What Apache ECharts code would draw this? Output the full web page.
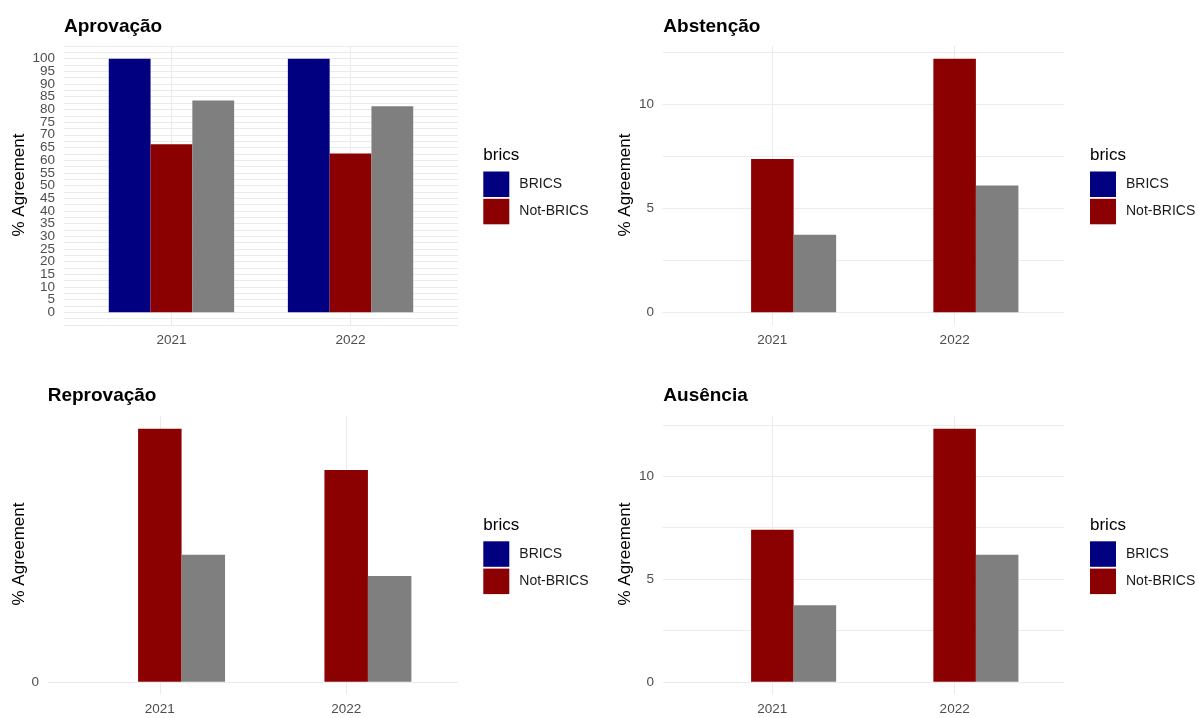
<!DOCTYPE html>
<html>
<head>
<meta charset="utf-8">
<script src="https://cdn.jsdelivr.net/npm/echarts@6/dist/echarts.min.js"></script>
<style>
html,body{margin:0;padding:0;background:#fff;}
#chart{width:1198px;height:718px;}
</style>
</head>
<body>
<div id="chart"></div>
<script>
// ---- data ----
const years = ['2021', '2022'];
const xPos = [1, 2];
const panelTitles = ['Aprovação', 'Abstenção', 'Reprovação', 'Ausência'];
const seriesNames = ['BRICS', 'Not-BRICS', 'Total'];

const aprovBRICS = [100, 100];
const aprovNot   = [66.3, 62.6];
const aprovAll   = [83.5, 81.2];

const abstBRICS = [0, 0];
const abstNot   = [7.38, 12.21];
const abstAll   = [3.73, 6.1];

const reprBRICS = [0, 0];
const reprNot   = [4.4, 3.68];
const reprAll   = [2.21, 1.84];

const ausBRICS = [0, 0];
const ausNot   = [7.4, 12.31];
const ausAll   = [3.72, 6.18];

const aprovTickLabels = [0,5,10,15,20,25,30,35,40,45,50,55,60,65,70,75,80,85,90,95,100];
const aprovGridLines = [-5,-2.5,0,2.5,5,7.5,10,12.5,15,17.5,20,22.5,25,27.5,30,32.5,35,37.5,40,42.5,45,47.5,50,52.5,55,57.5,60,62.5,65,67.5,70,72.5,75,77.5,80,82.5,85,87.5,90,92.5,95,97.5,100,102.5,105];
const smallTickLabels = [0, 5, 10];
const smallGridLines = [0, 2.5, 5, 7.5, 10, 12.5];
const reprTickLabels = [0];
const reprGridLines = [0];

// ---- styling ----
const FONT = '"Liberation Sans", Arial, sans-serif';
const COLORS = ['#000080', '#8B0000', '#7F7F7F'];
const GRIDCOL = '#EBEBEB';

// For the dense panel, pad the label list with the (hidden) panel limits so that
// ECharts' min/max-label overlap logic does not drop any visible label.
const aprovLabelValues = [aprovGridLines[0]].concat(aprovTickLabels, [aprovGridLines[aprovGridLines.length - 1]]);

const panels = [
  {title: panelTitles[0], data: [aprovBRICS, aprovNot, aprovAll], labels: aprovLabelValues, lines: aprovGridLines, edge: false,
   grid: {left: 64, top: 46, width: 394, height: 279}, tx: 64, ty: 26.5, ax: 19.7, ay: 185, lx: 483.3, ly: 171.5},
  {title: panelTitles[1], data: [abstBRICS, abstNot, abstAll], labels: smallTickLabels, lines: smallGridLines, edge: true,
   grid: {left: 663, top: 46, width: 401, height: 279}, tx: 663.3, ty: 26.5, ax: 625, ay: 185, lx: 1090, ly: 171.5},
  {title: panelTitles[2], data: [reprBRICS, reprNot, reprAll], labels: reprTickLabels, lines: reprGridLines, edge: true,
   grid: {left: 48, top: 416, width: 410, height: 278.5}, tx: 47.7, ty: 395.3, ax: 19.7, ay: 554, lx: 483.3, ly: 541.3},
  {title: panelTitles[3], data: [ausBRICS, ausNot, ausAll], labels: smallTickLabels, lines: smallGridLines, edge: true,
   grid: {left: 663, top: 416, width: 401, height: 278.5}, tx: 663.3, ty: 395.3, ax: 625, ay: 554, lx: 1090, ly: 541.3}
];

const grids = [], xAxes = [], yAxes = [], series = [], legends = [], graphics = [];

panels.forEach((p, i) => {
  grids.push(Object.assign({containLabel: false}, p.grid));
  xAxes.push({
    type: 'value', gridIndex: i, min: 0.4, max: 2.6,
    axisLine: {show: false},
    axisTick: {show: false, customValues: xPos},
    axisLabel: {customValues: xPos, formatter: v => years[Math.round(v) - 1] || '',
      color: '#4D4D4D', fontSize: 13.5, fontFamily: FONT, margin: 8,
      showMinLabel: true, showMaxLabel: true, hideOverlap: false},
    splitLine: {show: true, lineStyle: {color: GRIDCOL, width: 1}}
  });
  yAxes.push({
    type: 'value', gridIndex: i,
    min: e => -0.05 * e.max,
    max: e => 1.05 * e.max,
    axisLine: {show: false},
    axisTick: {show: false, customValues: p.lines},
    axisLabel: {customValues: p.labels, color: '#4D4D4D', fontSize: 13.5, fontFamily: FONT, margin: 9,
      showMinLabel: p.edge, showMaxLabel: p.edge, hideOverlap: false},
    splitLine: {show: true, lineStyle: {color: GRIDCOL, width: 1}}
  });
  p.data.forEach((arr, k) => {
    series.push({
      type: 'bar', name: seriesNames[k], xAxisIndex: i, yAxisIndex: i,
      data: arr.map((v, j) => [xPos[j], v]),
      itemStyle: {color: COLORS[k]},
      barGap: '0%', barCategoryGap: '30%',
      animation: false, silent: true
    });
  });
  legends.push({
    orient: 'vertical', left: p.lx, top: p.ly, padding: 0,
    itemWidth: 26, itemHeight: 25.5, itemGap: 1.8, icon: 'rect', selectedMode: false,
    data: ['BRICS', 'Not-BRICS'],
    textStyle: {fontSize: 14, color: '#1A1A1A', fontFamily: FONT, padding: [0, 0, 0, 5]}
  });
  graphics.push({type: 'text', x: p.tx, y: p.ty,
    style: {text: p.title, font: 'bold 19px ' + FONT, fill: '#000', align: 'left', verticalAlign: 'middle'}});
  graphics.push({type: 'text', x: p.ax, y: p.ay, rotation: Math.PI / 2,
    style: {text: '% Agreement', font: '17px ' + FONT, fill: '#000', align: 'center', verticalAlign: 'middle'}});
  graphics.push({type: 'text', x: p.lx, y: p.ly - 15.8,
    style: {text: 'brics', font: '17px ' + FONT, fill: '#000', align: 'left', verticalAlign: 'middle'}});
});

const chart = echarts.init(document.getElementById('chart'), null, {renderer: 'canvas'});
chart.setOption({
  backgroundColor: '#fff',
  animation: false,
  grid: grids, xAxis: xAxes, yAxis: yAxes, series: series,
  legend: legends, graphic: graphics
});
</script>
</body>
</html>
